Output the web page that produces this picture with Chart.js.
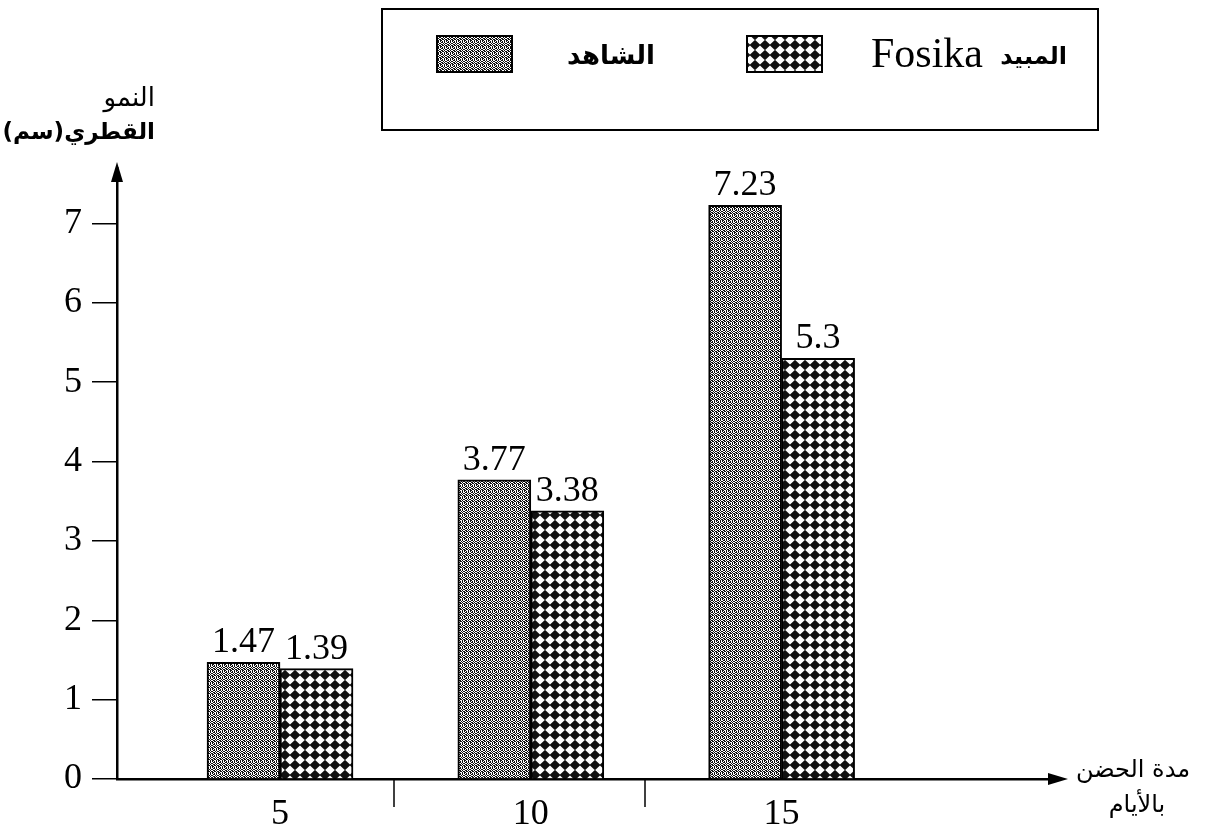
<!DOCTYPE html>
<html lang="ar">
<head>
<meta charset="utf-8">
<title>النمو القطري</title>
<script src="https://cdn.jsdelivr.net/npm/chart.js@4.4.1/dist/chart.umd.min.js"></script>
<style>
  html, body { margin: 0; padding: 0; background: #fff; }
  canvas { display: block; }
</style>
</head>
<body>
<canvas id="chart" width="1212" height="833"></canvas>
<script>
// Incubation period (days) on the x axis
const days = [5, 10, 15];
// Radial growth (cm) per treatment
const controlGrowth = [1.47, 3.77, 7.23];
const fosikaGrowth = [1.39, 3.38, 5.3];
const seriesLabels = ['الشاهد', 'المبيد Fosika'];
const yTickValues = [0, 1, 2, 3, 4, 5, 6, 7];
const xTickValues = [5, 10, 15];
const groupSeparators = [7.28, 12.28];
const yTitleLines = ['النمو', 'القطري(سم)'];
const xTitleLines = ['مدة الحضن', 'بالأيام'];

const SERIF = '"Liberation Serif", "Times New Roman", serif';
const ARABIC = '"DejaVu Sans", sans-serif';

// Stippled grey fill: small black worms on white
function stipplePattern() {
  const rows = [
    'X..XX.',
    '.XX..X',
    'X..XX.',
    '.XX.XX',
    'X.XX..',
    'X.X.X.'
  ];
  const c = document.createElement('canvas');
  c.width = rows[0].length; c.height = rows.length;
  const g = c.getContext('2d');
  g.fillStyle = '#fff'; g.fillRect(0, 0, c.width, c.height);
  g.fillStyle = '#111';
  rows.forEach((r, y) => [...r].forEach((ch, x) => { if (ch === 'X') g.fillRect(x, y, 1, 1); }));
  return g.createPattern(c, 'repeat');
}

// Black diamonds laid out on a square grid
function diamondPattern() {
  const c = document.createElement('canvas');
  c.width = 10; c.height = 10;
  const g = c.getContext('2d');
  g.fillStyle = '#fff'; g.fillRect(0, 0, 10, 10);
  g.fillStyle = '#111';
  g.beginPath();
  g.moveTo(5, -0.2); g.lineTo(10.6, 5); g.lineTo(5, 10.2); g.lineTo(-0.6, 5);
  g.closePath(); g.fill();
  return g.createPattern(c, 'repeat');
}

const fills = [stipplePattern(), diamondPattern()];
const seriesValues = [controlGrowth, fosikaGrowth];

const decorations = {
  id: 'decorations',
  afterDraw(chart) {
    const ctx = chart.ctx;
    const area = chart.chartArea;
    const xs = chart.scales.x;
    ctx.save();
    ctx.fillStyle = '#000';
    ctx.strokeStyle = '#000';

    // y axis arrowhead
    const yTip = area.top - 6;
    ctx.lineWidth = 2;
    ctx.beginPath(); ctx.moveTo(area.left, area.top); ctx.lineTo(area.left, yTip + 10); ctx.stroke();
    ctx.beginPath();
    ctx.moveTo(area.left, yTip); ctx.lineTo(area.left - 6, yTip + 20); ctx.lineTo(area.left + 6, yTip + 20);
    ctx.closePath(); ctx.fill();

    // x axis arrowhead
    const xTip = area.right + 8;
    ctx.beginPath();
    ctx.moveTo(xTip, area.bottom); ctx.lineTo(xTip - 20, area.bottom - 6); ctx.lineTo(xTip - 20, area.bottom + 6);
    ctx.closePath(); ctx.fill();

    // separators between day groups, below the axis
    ctx.lineWidth = 1.5;
    groupSeparators.forEach(v => {
      const px = Math.round(xs.getPixelForValue(v));
      ctx.beginPath(); ctx.moveTo(px, area.bottom); ctx.lineTo(px, area.bottom + 28); ctx.stroke();
    });

    // axis titles
    ctx.direction = 'rtl';
    ctx.textAlign = 'right';
    ctx.textBaseline = 'middle';
    ctx.font = '26px ' + ARABIC;
    ctx.fillText(yTitleLines[0], 155, 99);
    ctx.font = 'bold 23px ' + ARABIC;
    ctx.fillText(yTitleLines[1], 155, 133);
    ctx.font = '24px ' + ARABIC;
    ctx.textAlign = 'center';
    ctx.fillText(xTitleLines[0], 1133, 771);
    ctx.fillText(xTitleLines[1], 1137, 806);

    // value labels over the bars
    ctx.direction = 'ltr';
    ctx.font = '36px ' + SERIF;
    ctx.textAlign = 'center';
    ctx.textBaseline = 'alphabetic';
    chart.data.datasets.forEach((ds, di) => {
      const meta = chart.getDatasetMeta(di);
      meta.data.forEach((bar, i) => {
        ctx.fillText(String(seriesValues[di][i]), bar.x, bar.y - 10);
      });
    });

    // legend frame and entries
    ctx.lineWidth = 2;
    ctx.strokeRect(382, 9, 716, 121);
    const swatchX = [437, 747];
    chart.data.datasets.forEach((ds, di) => {
      ctx.fillStyle = ds.backgroundColor;
      ctx.fillRect(swatchX[di], 36, 75, 36);
      ctx.strokeRect(swatchX[di], 36, 75, 36);
    });
    ctx.fillStyle = '#000';
    ctx.textBaseline = 'alphabetic';
    // first entry: Arabic only
    ctx.direction = 'rtl';
    ctx.textAlign = 'right';
    ctx.font = 'bold 26px ' + ARABIC;
    ctx.fillText(chart.data.datasets[0].label, 655, 64);
    // second entry: Arabic word on the right, Latin name on its left
    const parts = chart.data.datasets[1].label.split(' ');
    ctx.font = 'bold 24px ' + ARABIC;
    ctx.fillText(parts[0], 1067, 64);
    ctx.direction = 'ltr';
    ctx.textAlign = 'left';
    ctx.font = '42px ' + SERIF;
    ctx.fillText(parts.slice(1).join(' '), 871, 67);
    ctx.restore();
  }
};

new Chart(document.getElementById('chart'), {
  type: 'bar',
  data: {
    datasets: seriesLabels.map((label, di) => ({
      label,
      data: days.map((d, i) => ({ x: d, y: seriesValues[di][i] })),
      backgroundColor: fills[di],
      borderColor: '#000',
      borderWidth: 2,
      barThickness: 73
    }))
  },
  options: {
    responsive: false,
    animation: false,
    devicePixelRatio: 1,
    layout: { padding: { top: 168, right: 152, bottom: 0, left: 0 } },
    plugins: { legend: { display: false }, tooltip: { enabled: false } },
    scales: {
      x: {
        type: 'linear',
        offset: false,
        min: 1.75,
        max: 20.55,
        afterBuildTicks: s => { s.ticks = xTickValues.map(v => ({ value: v })); },
        afterFit: s => { s.height = 54; },
        grid: { display: false, drawTicks: false, offset: false },
        border: { display: true, color: '#000', width: 2.5 },
        ticks: { color: '#000', font: { family: SERIF, size: 36 }, padding: 14, maxRotation: 0 }
      },
      y: {
        min: 0,
        max: 7.7,
        afterBuildTicks: s => { s.ticks = yTickValues.map(v => ({ value: v })); },
        afterFit: s => { s.width = 117; },
        grid: { drawOnChartArea: false, drawTicks: true, tickLength: 25, color: '#000', lineWidth: 1.5 },
        border: { display: true, color: '#000', width: 2.5 },
        ticks: { color: '#000', font: { family: SERIF, size: 36 }, padding: 10 }
      }
    }
  },
  plugins: [decorations]
});
</script>
</body>
</html>
